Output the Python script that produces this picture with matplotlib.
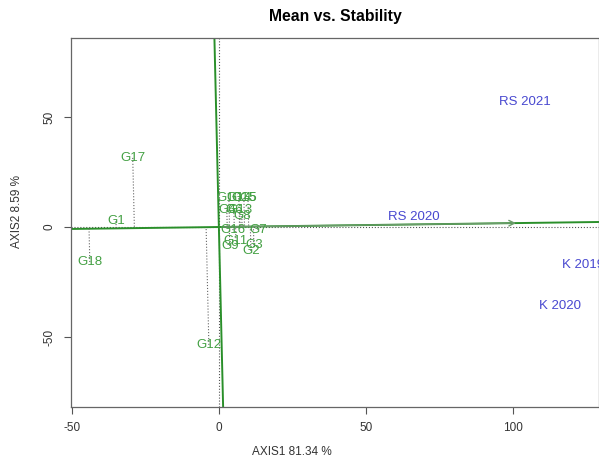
import numpy as np
import matplotlib
matplotlib.use("Agg")
import matplotlib.pyplot as plt

plt.rcParams['font.family'] = ['Liberation Sans', 'DejaVu Sans']
plt.rcParams['axes.unicode_minus'] = False

# genotype scores (AXIS1, AXIS2)
genotypes = ['G1', 'G2', 'G3', 'G4', 'G5', 'G6', 'G7', 'G8', 'G9', 'G10',
             'G11', 'G12', 'G13', 'G14', 'G15', 'G16', 'G17', 'G18']
gen_x = [-35.0, 10.9, 11.9, 2.7, 9.9, 5.1, 13.3, 7.8, 3.7, 3.4,
         5.8, -3.4, 7.1, 6.8, 8.5, 4.8, -29.3, -43.9]
gen_y = [2.7, -10.9, -8.2, 7.7, 13.2, 7.7, -1.4, 5.0, -8.6, 13.2,
         -6.4, -53.6, 7.7, 13.2, 13.2, -1.4, 31.4, -15.9]

# environment scores
environments = ['RS 2021', 'RS 2020', 'K 2019', 'K 2020']
env_x = [104.1, 66.3, 123.8, 116.0]
env_y = [56.8, 4.5, -17.3, -35.9]

# average environment coordinate (end of the AEA arrow)
avg_env = (102.0, 1.8)

line_green = '#2a8f2a'
label_green = '#43a043'
env_blue = '#4848d0'

fig = plt.figure(figsize=(5.99, 4.57), dpi=100)
ax = fig.add_axes([71 / 599, 50 / 457, 528 / 599, 369 / 457])

ax.set_xlim(-50.3, 129.3)
ax.set_ylim(-81.8, 85.9)

# reference lines through origin
ax.axhline(0, color='#555555', lw=0.8, ls=':')
ax.axvline(0, color='#555555', lw=0.8, ls=':')

# average environment axis and its perpendicular
slope = avg_env[1] / avg_env[0]
xs = np.array([-60, 140])
ax.plot(xs, slope * xs, color=line_green, lw=1.4)
ys = np.array([-90, 95])
ax.plot(-slope * ys, ys, color=line_green, lw=1.4)
ax.annotate('', xy=avg_env, xytext=(0, 0),
            arrowprops=dict(arrowstyle='->', color='#6a9a6a', lw=1.0,
                            mutation_scale=10))

# projections of genotypes onto the AEA
u = np.array([1.0, slope]) / np.hypot(1.0, slope)
for x, y in zip(gen_x, gen_y):
    p = np.array([x, y])
    proj = np.dot(p, u) * u
    ax.plot([x, proj[0]], [y, proj[1]], color='#666666', lw=0.8, ls=':')

for name, x, y in zip(genotypes, gen_x, gen_y):
    ax.text(x, y, name, color=label_green, fontsize=9.5, ha='center', va='center')

for name, x, y in zip(environments, env_x, env_y):
    ax.text(x, y, name, color=env_blue, fontsize=9.5, ha='center', va='center')

ax.set_xticks([-50, 0, 50, 100])
ax.set_yticks([-50, 0, 50])
ax.tick_params(direction='out', length=5, width=0.8, colors='#555555',
               labelcolor='#333333', labelsize=8.5, pad=6)
for lab in ax.get_yticklabels():
    lab.set_rotation(90)
    lab.set_va('center')
for s in ax.spines.values():
    s.set_color('#666666')
    s.set_linewidth(0.9)

ax.set_xlabel('AXIS1 81.34 %', fontsize=8.5, color='#333333')
ax.xaxis.set_label_coords(0.419, -0.105)
ax.set_ylabel('AXIS2 8.59 %', fontsize=8.5, color='#333333')
ax.yaxis.set_label_coords(-0.09, 0.53)
ax.set_title('Mean vs. Stability', fontsize=11.3, fontweight='bold', pad=12)

fig.savefig('out.png', dpi=100)
